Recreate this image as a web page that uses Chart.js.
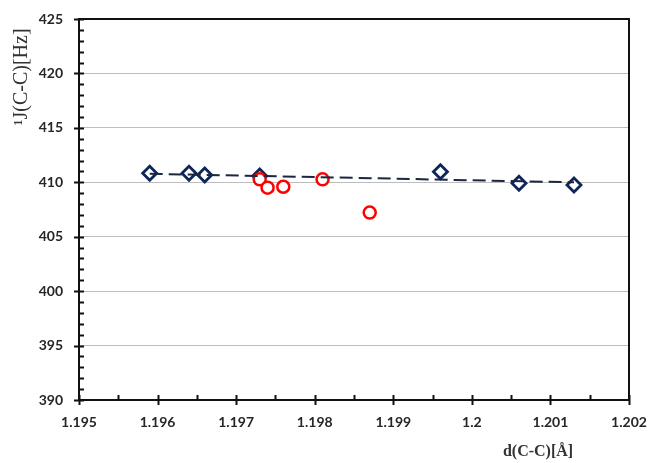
<!DOCTYPE html>
<html>
<head>
<meta charset="utf-8">
<script src="https://cdn.jsdelivr.net/npm/chart.js@4/dist/chart.umd.min.js"></script>
<style>
  html, body { margin: 0; padding: 0; background: #fff; }
  #wrap { width: 651px; height: 463px; }
</style>
</head>
<body>
<div id="wrap"><canvas id="chart" width="651" height="463"></canvas></div>
<script>
// Data
const diamondX = [1.1959, 1.1964, 1.1966, 1.1973, 1.1996, 1.2006, 1.2013];
const diamondY = [410.83, 410.83, 410.67, 410.58, 410.97, 409.91, 409.75];

const circleX = [1.1973, 1.1974, 1.1976, 1.1981, 1.1987];
const circleY = [410.27, 409.50, 409.59, 410.27, 407.22];

// dashed trend line over the diamonds (end points)
const trendX = [1.1959, 1.2013];
const trendY = [410.78, 410.0];

const xTicks = [1.195, 1.196, 1.197, 1.198, 1.199, 1.2, 1.201, 1.202];
const yTicks = [390, 395, 400, 405, 410, 415, 420, 425];

const toPoints = (xs, ys) => xs.map((x, i) => ({ x: x, y: ys[i] }));

// frame, tick marks and axis titles
const frameAndTitles = {
  id: "frameAndTitles",
  afterDraw(chart) {
    const ctx = chart.ctx;
    const xs = chart.scales.x;
    const ys = chart.scales.y;
    const a = chart.chartArea;
    ctx.save();
    ctx.strokeStyle = "#111";
    ctx.lineWidth = 2;
    ctx.strokeRect(a.left, a.top, a.right - a.left, a.bottom - a.top);

    // y ticks: major cross the axis, minor inside
    ctx.beginPath();
    for (let v = yTicks[0]; v <= yTicks[yTicks.length - 1]; v++) {
      const py = Math.round(ys.getPixelForValue(v)) + 0.5;
      if (v % 5 === 0) {
        ctx.moveTo(a.left - 5, py); ctx.lineTo(a.left + 5, py);
      } else {
        ctx.moveTo(a.left, py); ctx.lineTo(a.left + 5, py);
      }
    }
    // x ticks
    for (let i = 0; i < xTicks.length; i++) {
      const px = Math.round(xs.getPixelForValue(xTicks[i])) + 0.5;
      ctx.moveTo(px, a.bottom - 5); ctx.lineTo(px, a.bottom + 5);
      if (i < xTicks.length - 1) {
        const mx = Math.round(xs.getPixelForValue((xTicks[i] + xTicks[i + 1]) / 2)) + 0.5;
        ctx.moveTo(mx, a.bottom - 5); ctx.lineTo(mx, a.bottom);
      }
    }
    ctx.stroke();

    // axis titles
    ctx.fillStyle = "#333";
    ctx.textAlign = "center";
    ctx.textBaseline = "middle";
    ctx.save();
    ctx.translate(22, 77);
    ctx.rotate(-Math.PI / 2);
    ctx.font = "20px 'Liberation Serif'";
    ctx.fillText("\u00B9J(C-C)[Hz]", 0, 0);
    ctx.restore();

    ctx.font = "bold 16px 'Liberation Serif'";
    ctx.fillText("d(C-C)[\u00C5]", 538, 452);
    ctx.restore();
  }
};

const ctx = document.getElementById("chart").getContext("2d");

new Chart(ctx, {
  type: "scatter",
  data: {
    datasets: [
      {
        label: "trend",
        data: toPoints(trendX, trendY),
        showLine: true,
        borderColor: "#1b2640",
        borderWidth: 2,
        borderDash: [13, 6],
        pointRadius: 0,
        fill: false
      },
      {
        label: "circles",
        data: toPoints(circleX, circleY),
        pointStyle: "circle",
        pointRadius: 6,
        borderWidth: 2.5,
        borderColor: "#ff0000",
        backgroundColor: "#ffffff"
      },
      {
        label: "diamonds",
        data: toPoints(diamondX, diamondY),
        pointStyle: "rectRot",
        pointRadius: 7,
        borderWidth: 2.8,
        borderColor: "#0d2559",
        backgroundColor: "#ffffff"
      }
    ]
  },
  options: {
    responsive: false,
    animation: false,
    layout: { padding: { left: 0, top: 19, right: 22, bottom: 0 } },
    plugins: {
      legend: { display: false },
      tooltip: { enabled: false }
    },
    scales: {
      x: {
        type: "linear",
        min: xTicks[0],
        max: xTicks[xTicks.length - 1],
        afterFit: (scale) => {
          scale.height = 63;
          scale.paddingLeft = 0;
          scale.paddingRight = 0;
        },
        afterBuildTicks: (scale) => { scale.ticks = xTicks.map(v => ({ value: v })); },
        grid: { display: false, drawTicks: false },
        border: { display: false },
        ticks: {
          padding: 14,
          color: "#262626",
          font: { family: "Lato", size: 14, weight: "bold" },
          maxRotation: 0,
          autoSkip: false,
          callback: (v) => String(v)
        }
      },
      y: {
        type: "linear",
        min: yTicks[0],
        max: yTicks[yTicks.length - 1],
        afterFit: (scale) => {
          scale.width = 79;
          scale.paddingTop = 0;
          scale.paddingBottom = 0;
        },
        afterBuildTicks: (scale) => { scale.ticks = yTicks.map(v => ({ value: v })); },
        grid: {
          drawTicks: false,
          lineWidth: 1,
          color: (c) => (c.tick && (c.tick.value === yTicks[0] || c.tick.value === yTicks[yTicks.length - 1])) ? "rgba(0,0,0,0)" : "#bdbdbd"
        },
        border: { display: false },
        ticks: {
          padding: 16,
          color: "#262626",
          font: { family: "Lato", size: 14, weight: "bold" },
          autoSkip: false,
          callback: (v) => String(v)
        }
      }
    }
  },
  plugins: [frameAndTitles]
});
</script>
</body>
</html>
